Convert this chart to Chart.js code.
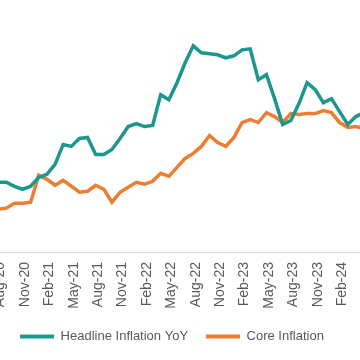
<!DOCTYPE html>
<html>
<head>
<meta charset="utf-8">
<script src="https://cdn.jsdelivr.net/npm/chart.js@4"></script>
<style>
  html, body { margin: 0; padding: 0; background: #fff; overflow: hidden; }
  #wrap { position: absolute; left: -30px; top: 0; width: 406px; height: 360px; }
</style>
</head>
<body>
<div id="wrap"><canvas id="myChart" width="406" height="360"></canvas></div>
<script>
// monthly categories (chart is cropped on both sides)
const months = [
  'Jul-20', 'Aug-20', 'Sep-20', 'Oct-20', 'Nov-20', 'Dec-20',
  'Jan-21', 'Feb-21', 'Mar-21', 'Apr-21', 'May-21', 'Jun-21',
  'Jul-21', 'Aug-21', 'Sep-21', 'Oct-21', 'Nov-21', 'Dec-21',
  'Jan-22', 'Feb-22', 'Mar-22', 'Apr-22', 'May-22', 'Jun-22',
  'Jul-22', 'Aug-22', 'Sep-22', 'Oct-22', 'Nov-22', 'Dec-22',
  'Jan-23', 'Feb-23', 'Mar-23', 'Apr-23', 'May-23', 'Jun-23',
  'Jul-23', 'Aug-23', 'Sep-23', 'Oct-23', 'Nov-23', 'Dec-23',
  'Jan-24', 'Feb-24', 'Mar-24', 'Apr-24', 'May-24'
];

const headline = [
  3.5, 3.5, 3.5, 3.3, 3.15, 3.3,
  3.75, 3.9, 4.4, 5.4, 5.3, 5.7,
  5.75, 4.9, 4.9, 5.15, 5.7, 6.3,
  6.45, 6.3, 6.35, 7.9, 7.65, 8.5,
  9.5, 10.35, 10.0, 9.95, 9.9, 9.75,
  9.85, 10.15, 10.2, 8.65, 8.9, 7.7,
  6.4, 6.6, 7.45, 8.5, 8.15, 7.5,
  7.7, 7.05, 6.4, 6.8, 7.0
];

const core = [
  2.1, 2.15, 2.2, 2.45, 2.45, 2.5,
  3.85, 3.65, 3.35, 3.6, 3.3, 3.0,
  3.05, 3.35, 3.15, 2.5, 3.0, 3.25,
  3.5, 3.4, 3.55, 3.95, 3.8, 4.25,
  4.7, 4.95, 5.3, 5.85, 5.5, 5.3,
  5.75, 6.5, 6.65, 6.5, 7.0, 6.8,
  6.5, 6.95, 6.9, 6.95, 6.95, 7.1,
  7.0, 6.5, 6.25, 6.3, 6.2
];

// only every third month gets a label (Aug, Nov, Feb, May)
const tickEvery = 3;
const firstTick = 1;

const teal = '#1c978d';
const orange = '#ed7d31';

const data = {
  labels: months,
  datasets: [{
    label: 'Headline Inflation YoY',
    data: headline,
    borderColor: teal,
    backgroundColor: teal,
    borderWidth: 3.5,
    pointRadius: 0,
    tension: 0
  }, {
    label: 'Core Inflation',
    data: core,
    borderColor: orange,
    backgroundColor: orange,
    borderWidth: 3.5,
    pointRadius: 0,
    tension: 0
  }]
};

const config = {
  type: 'line',
  data: data,
  options: {
    responsive: false,
    animation: false,
    layout: { padding: { left: 10, right: 12, top: 13, bottom: 7 } },
    plugins: {
      tooltip: { enabled: false },
      legend: {
        position: 'bottom',
        labels: {
          boxWidth: 34,
          boxHeight: 4,
          padding: 18,
          color: '#595959',
          font: { family: 'Liberation Sans, Arial, sans-serif', size: 13 },
          generateLabels: function(chart) {
            return Chart.defaults.plugins.legend.labels.generateLabels(chart).map(function(l) {
              l.lineWidth = 0;
              return l;
            });
          }
        }
      }
    },
    scales: {
      x: {
        offset: false,
        grid: { display: false, drawTicks: false },
        border: { display: true, color: '#d9d9d9', width: 1 },
        ticks: {
          autoSkip: false,
          maxRotation: 90,
          minRotation: 90,
          padding: 10,
          labelOffset: 2.5,
          color: '#595959',
          font: { family: 'Liberation Sans, Arial, sans-serif', size: 14 },
          callback: function(val, i) {
            return (i - firstTick) % tickEvery === 0 ? months[i] : '';
          }
        },
        afterFit: function(scale) {
          scale.paddingLeft = 0;
          scale.paddingRight = 0;
          scale.height = 60;
        }
      },
      y: {
        min: 0,
        max: 12,
        grid: { display: false, drawTicks: false },
        border: { display: false },
        ticks: { display: false },
        afterFit: function(scale) { scale.width = 10; }
      }
    }
  }
};

const myChart = new Chart(document.getElementById('myChart'), config);
</script>
</body>
</html>
